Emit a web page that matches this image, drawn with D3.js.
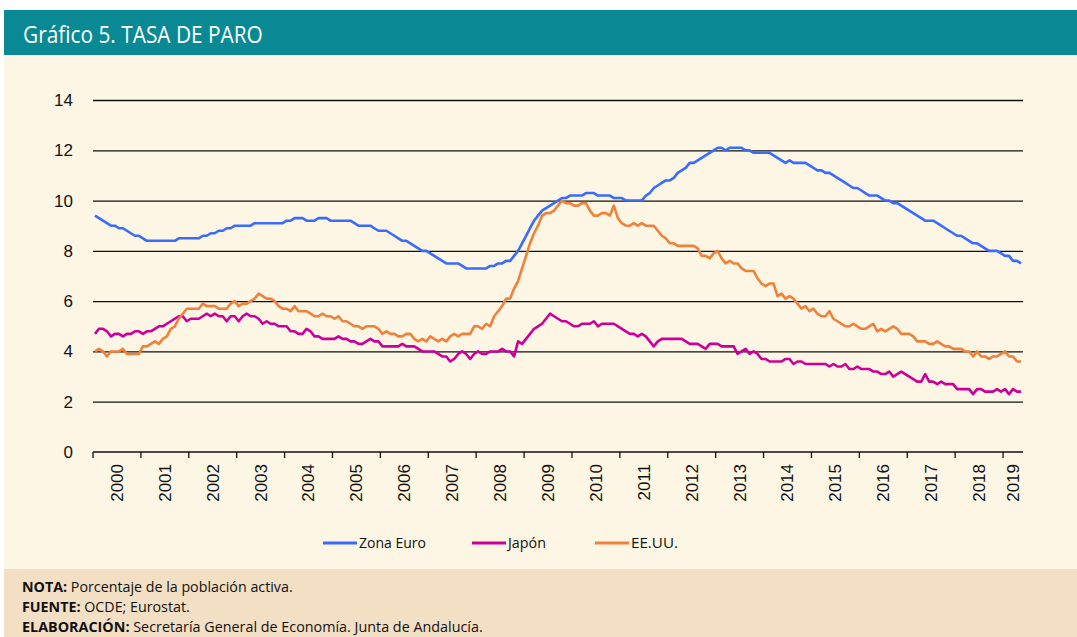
<!DOCTYPE html>
<html>
<head>
<meta charset="utf-8">
<script src="https://cdn.jsdelivr.net/npm/d3@7"></script>
<style>
  html, body { margin: 0; padding: 0; background: #fff; }
  svg { display: block; }
</style>
</head>
<body>
<svg></svg>
<script>
// tick labels / categories
const years = ['2000', '2001', '2002', '2003', '2004', '2005', '2006', '2007', '2008', '2009',
    '2010', '2011', '2012', '2013', '2014', '2015', '2016', '2017', '2018', '2019'];
const monthsPerYear = [12, 12, 12, 12, 12, 12, 12, 12, 12, 12, 12, 12, 12, 12, 12, 12, 12, 12, 12, 5];
const yTicks = [0, 2, 4, 6, 8, 10, 12, 14];

// monthly unemployment rate (%), one row per year
const zonaEuro = [
    9.4, 9.3, 9.2, 9.1, 9.0, 9.0, 8.9, 8.9, 8.8, 8.7, 8.6, 8.6,
    8.5, 8.4, 8.4, 8.4, 8.4, 8.4, 8.4, 8.4, 8.4, 8.5, 8.5, 8.5,
    8.5, 8.5, 8.5, 8.6, 8.6, 8.7, 8.7, 8.8, 8.8, 8.9, 8.9, 9.0,
    9.0, 9.0, 9.0, 9.0, 9.1, 9.1, 9.1, 9.1, 9.1, 9.1, 9.1, 9.1,
    9.2, 9.2, 9.3, 9.3, 9.3, 9.2, 9.2, 9.2, 9.3, 9.3, 9.3, 9.2,
    9.2, 9.2, 9.2, 9.2, 9.2, 9.1, 9.0, 9.0, 9.0, 9.0, 8.9, 8.8,
    8.8, 8.8, 8.7, 8.6, 8.5, 8.4, 8.4, 8.3, 8.2, 8.1, 8.0, 8.0,
    7.9, 7.8, 7.7, 7.6, 7.5, 7.5, 7.5, 7.5, 7.4, 7.3, 7.3, 7.3,
    7.3, 7.3, 7.3, 7.4, 7.4, 7.5, 7.5, 7.6, 7.6, 7.8, 8.0, 8.3,
    8.6, 8.9, 9.2, 9.4, 9.6, 9.7, 9.8, 9.9, 10.0, 10.1, 10.1, 10.2,
    10.2, 10.2, 10.2, 10.3, 10.3, 10.3, 10.2, 10.2, 10.2, 10.2, 10.1, 10.1,
    10.1, 10.0, 10.0, 10.0, 10.0, 10.0, 10.2, 10.3, 10.5, 10.6, 10.7, 10.8,
    10.8, 10.9, 11.1, 11.2, 11.3, 11.5, 11.5, 11.6, 11.7, 11.8, 11.9, 12.0,
    12.1, 12.1, 12.0, 12.1, 12.1, 12.1, 12.1, 12.0, 12.0, 11.9, 11.9, 11.9,
    11.9, 11.9, 11.8, 11.7, 11.6, 11.5, 11.6, 11.5, 11.5, 11.5, 11.5, 11.4,
    11.3, 11.2, 11.2, 11.1, 11.1, 11.0, 10.9, 10.8, 10.7, 10.6, 10.5, 10.5,
    10.4, 10.3, 10.2, 10.2, 10.2, 10.1, 10.0, 10.0, 9.9, 9.9, 9.8, 9.7,
    9.6, 9.5, 9.4, 9.3, 9.2, 9.2, 9.2, 9.1, 9.0, 8.9, 8.8, 8.7,
    8.6, 8.6, 8.5, 8.4, 8.3, 8.3, 8.2, 8.1, 8.0, 8.0, 8.0, 7.9,
    7.8, 7.8, 7.6, 7.6, 7.5
];

const japon = [
    4.7, 4.9, 4.9, 4.8, 4.6, 4.7, 4.7, 4.6, 4.7, 4.7, 4.8, 4.8,
    4.7, 4.8, 4.8, 4.9, 5.0, 5.0, 5.1, 5.2, 5.3, 5.4, 5.4, 5.2,
    5.3, 5.3, 5.3, 5.4, 5.5, 5.4, 5.5, 5.4, 5.4, 5.2, 5.4, 5.4,
    5.2, 5.4, 5.5, 5.4, 5.4, 5.3, 5.1, 5.2, 5.1, 5.1, 5.0, 5.0,
    5.0, 4.8, 4.8, 4.7, 4.7, 4.9, 4.8, 4.6, 4.6, 4.5, 4.5, 4.5,
    4.5, 4.6, 4.5, 4.5, 4.4, 4.4, 4.3, 4.3, 4.4, 4.5, 4.4, 4.4,
    4.2, 4.2, 4.2, 4.2, 4.2, 4.3, 4.2, 4.2, 4.2, 4.1, 4.0, 4.0,
    4.0, 4.0, 3.9, 3.8, 3.8, 3.6, 3.7, 3.9, 4.0, 3.9, 3.7, 3.9,
    4.0, 3.9, 3.9, 4.0, 4.0, 4.0, 4.1, 4.0, 4.0, 3.8, 4.4, 4.3,
    4.5, 4.7, 4.9, 5.0, 5.1, 5.3, 5.5, 5.4, 5.3, 5.2, 5.2, 5.1,
    5.0, 5.0, 5.1, 5.1, 5.1, 5.2, 5.0, 5.1, 5.1, 5.1, 5.1, 5.0,
    4.9, 4.8, 4.7, 4.7, 4.6, 4.7, 4.6, 4.4, 4.2, 4.4, 4.5, 4.5,
    4.5, 4.5, 4.5, 4.5, 4.4, 4.3, 4.3, 4.3, 4.2, 4.1, 4.3, 4.3,
    4.3, 4.2, 4.2, 4.2, 4.2, 3.9, 4.0, 4.1, 3.9, 4.0, 3.9, 3.7,
    3.7, 3.6, 3.6, 3.6, 3.6, 3.7, 3.7, 3.5, 3.6, 3.6, 3.5, 3.5,
    3.5, 3.5, 3.5, 3.5, 3.4, 3.5, 3.4, 3.4, 3.5, 3.3, 3.3, 3.4,
    3.3, 3.3, 3.3, 3.2, 3.2, 3.1, 3.1, 3.2, 3.0, 3.1, 3.2, 3.1,
    3.0, 2.9, 2.8, 2.8, 3.1, 2.8, 2.8, 2.7, 2.8, 2.7, 2.7, 2.7,
    2.5, 2.5, 2.5, 2.5, 2.3, 2.5, 2.5, 2.4, 2.4, 2.4, 2.5, 2.4,
    2.5, 2.3, 2.5, 2.4, 2.4
];

const eeuu = [
    4.0, 4.1, 4.0, 3.8, 4.0, 4.0, 4.0, 4.1, 3.9, 3.9, 3.9, 3.9,
    4.2, 4.2, 4.3, 4.4, 4.3, 4.5, 4.6, 4.9, 5.0, 5.3, 5.5, 5.7,
    5.7, 5.7, 5.7, 5.9, 5.8, 5.8, 5.8, 5.7, 5.7, 5.7, 5.9, 6.0,
    5.8, 5.9, 5.9, 6.0, 6.1, 6.3, 6.2, 6.1, 6.1, 6.0, 5.8, 5.7,
    5.7, 5.6, 5.8, 5.6, 5.6, 5.6, 5.5, 5.4, 5.4, 5.5, 5.4, 5.4,
    5.3, 5.4, 5.2, 5.2, 5.1, 5.0, 5.0, 4.9, 5.0, 5.0, 5.0, 4.9,
    4.7, 4.8, 4.7, 4.7, 4.6, 4.6, 4.7, 4.7, 4.5, 4.4, 4.5, 4.4,
    4.6, 4.5, 4.4, 4.5, 4.4, 4.6, 4.7, 4.6, 4.7, 4.7, 4.7, 5.0,
    5.0, 4.9, 5.1, 5.0, 5.4, 5.6, 5.8, 6.1, 6.1, 6.5, 6.8, 7.3,
    7.8, 8.3, 8.7, 9.0, 9.4, 9.5, 9.5, 9.6, 9.8, 10.0, 9.9, 9.9,
    9.8, 9.8, 9.9, 9.9, 9.6, 9.4, 9.4, 9.5, 9.5, 9.4, 9.8, 9.3,
    9.1, 9.0, 9.0, 9.1, 9.0, 9.1, 9.0, 9.0, 9.0, 8.8, 8.6, 8.5,
    8.3, 8.3, 8.2, 8.2, 8.2, 8.2, 8.2, 8.1, 7.8, 7.8, 7.7, 7.9,
    8.0, 7.7, 7.5, 7.6, 7.5, 7.5, 7.3, 7.2, 7.2, 7.2, 6.9, 6.7,
    6.6, 6.7, 6.7, 6.2, 6.3, 6.1, 6.2, 6.1, 5.9, 5.7, 5.8, 5.6,
    5.7, 5.5, 5.4, 5.4, 5.6, 5.3, 5.2, 5.1, 5.0, 5.0, 5.1, 5.0,
    4.9, 4.9, 5.0, 5.1, 4.8, 4.9, 4.8, 4.9, 5.0, 4.9, 4.7, 4.7,
    4.7, 4.6, 4.4, 4.4, 4.4, 4.3, 4.3, 4.4, 4.3, 4.2, 4.2, 4.1,
    4.1, 4.1, 4.0, 4.0, 3.8, 4.0, 3.8, 3.8, 3.7, 3.8, 3.8, 3.9,
    4.0, 3.8, 3.8, 3.6, 3.6
];

const seriesNames = ['Zona Euro', 'Japón', 'EE.UU.'];
const seriesColors = ['#3a6bff', '#cc0099', '#f0813a'];
const notes = [
    ['NOTA:', ' Porcentaje de la población activa.'],
    ['FUENTE:', ' OCDE; Eurostat.'],
    ['ELABORACIÓN:', ' Secretaría General de Economía. Junta de Andalucía.']
];

window.onload = () => {
    let width = 1077;
    let height = 637;
    let margin = { top: 100, right: 54, bottom: 185, left: 93 };

    let svg = d3.select('svg')
        .attr('width', width)
        .attr('height', height);

    // panels
    svg.append('rect').attr('x', 4).attr('y', 10).attr('width', width - 4).attr('height', 45)
        .attr('fill', '#088993');
    svg.append('rect').attr('x', 4).attr('y', 55).attr('width', width - 4).attr('height', 514)
        .attr('fill', '#fdf6e4');
    svg.append('rect').attr('x', 4).attr('y', 569).attr('width', width - 4).attr('height', 68)
        .attr('fill', '#f3dfc4');

    // squeeze text horizontally to the narrow look of the original typeface
    function fit(g, target) {
        let w = g.node().getBBox().width;
        let k = target / w;
        let t = g.attr('data-t');
        g.attr('transform', `${t} scale(${k},1)`);
    }

    let title = svg.append('g').attr('data-t', 'translate(23,43)');
    title.append('text')
        .attr('font-family', '"Open Sans", sans-serif')
        .attr('font-size', 23)
        .attr('fill', '#fff')
        .text('Gráfico 5. TASA DE PARO');
    fit(title, 240);

    let months = years.flatMap((yr, i) => d3.range(monthsPerYear[i]).map(m => `${yr}-${m + 1}`));

    let x = d3.scaleBand()
        .domain(months)
        .range([margin.left, width - margin.right]);

    let y = d3.scaleLinear()
        .domain([0, 14])
        .range([height - margin.bottom, margin.top]);

    // gridlines
    svg.append('g')
        .attr('transform', `translate(${margin.left},0)`)
        .call(d3.axisLeft(y).tickValues(yTicks.filter(v => v > 0))
            .tickSize(-(width - margin.left - margin.right)).tickFormat(''))
        .call(g => g.select('.domain').remove())
        .call(g => g.selectAll('line').attr('stroke', '#111').attr('stroke-width', 1.3));

    // y labels
    svg.append('g')
        .attr('transform', `translate(${margin.left},0)`)
        .call(d3.axisLeft(y).tickValues(yTicks).tickSize(0).tickPadding(20))
        .call(g => g.select('.domain').remove())
        .call(g => g.selectAll('text')
            .attr('font-family', '"Liberation Sans", Arial, sans-serif')
            .attr('font-size', 17)
            .attr('fill', '#111'));

    // x axis with year boundary ticks
    let yearStart = [];
    let acc = 0;
    monthsPerYear.forEach(n => { yearStart.push(acc); acc += n; });

    let xAxis = svg.append('g');
    xAxis.append('line')
        .attr('x1', margin.left).attr('x2', width - margin.right)
        .attr('y1', y(0)).attr('y2', y(0))
        .attr('stroke', '#111').attr('stroke-width', 1.3);
    xAxis.selectAll('.tick')
        .data(yearStart)
        .enter()
        .append('line')
        .attr('class', 'tick')
        .attr('x1', d => x(months[d])).attr('x2', d => x(months[d]))
        .attr('y1', y(0)).attr('y2', y(0) + 6)
        .attr('stroke', '#111').attr('stroke-width', 1.3);
    xAxis.selectAll('.year')
        .data(years)
        .enter()
        .append('text')
        .attr('class', 'year')
        .attr('transform', (d, i) => {
            let a = x(months[yearStart[i]]);
            let b = x(months[yearStart[i] + monthsPerYear[i] - 1]) + x.bandwidth();
            return `translate(${(a + b) / 2},${y(0) + 12}) rotate(-90)`;
        })
        .attr('text-anchor', 'end')
        .attr('dy', '0.35em')
        .attr('font-family', '"Liberation Sans", Arial, sans-serif')
        .attr('font-size', 17)
        .attr('fill', '#111')
        .text(d => d);

    // lines
    let allSeries = [zonaEuro, japon, eeuu];
    let line = d3.line()
        .x((d, i) => x(months[i]) + x.bandwidth() / 2)
        .y(d => y(d));

    svg.append('g')
        .selectAll('path')
        .data(allSeries)
        .enter()
        .append('path')
        .attr('d', d => line(d))
        .attr('fill', 'none')
        .attr('stroke', (d, i) => seriesColors[i])
        .attr('stroke-width', 2.6)
        .attr('stroke-linejoin', 'round');

    // legend
    let legendX = [323, 472, 595];
    let legendW = [67, 40, 47];
    let legend = svg.append('g')
        .selectAll('g')
        .data(seriesNames)
        .enter()
        .append('g');
    legend.append('line')
        .attr('x1', (d, i) => legendX[i]).attr('x2', (d, i) => legendX[i] + 34)
        .attr('y1', 543).attr('y2', 543)
        .attr('stroke', (d, i) => seriesColors[i])
        .attr('stroke-width', 3);
    legend.each(function (d, i) {
        let g = d3.select(this).append('g').attr('data-t', `translate(${legendX[i] + 36},548)`);
        g.append('text')
            .attr('font-family', '"Open Sans", sans-serif')
            .attr('font-size', 14.5)
            .attr('fill', '#111')
            .text(d);
        fit(g, legendW[i]);
    });

    // notes
    let noteW = [271, 168, 461];
    notes.forEach((n, i) => {
        let g = svg.append('g').attr('data-t', `translate(22,${592 + i * 20})`);
        let t = g.append('text')
            .attr('font-family', '"Open Sans", sans-serif')
            .attr('font-size', 15)
            .attr('fill', '#111');
        t.append('tspan').attr('font-weight', 'bold').text(n[0]);
        t.append('tspan').text(n[1]);
        fit(g, noteW[i]);
    });
}
</script>
</body>
</html>
